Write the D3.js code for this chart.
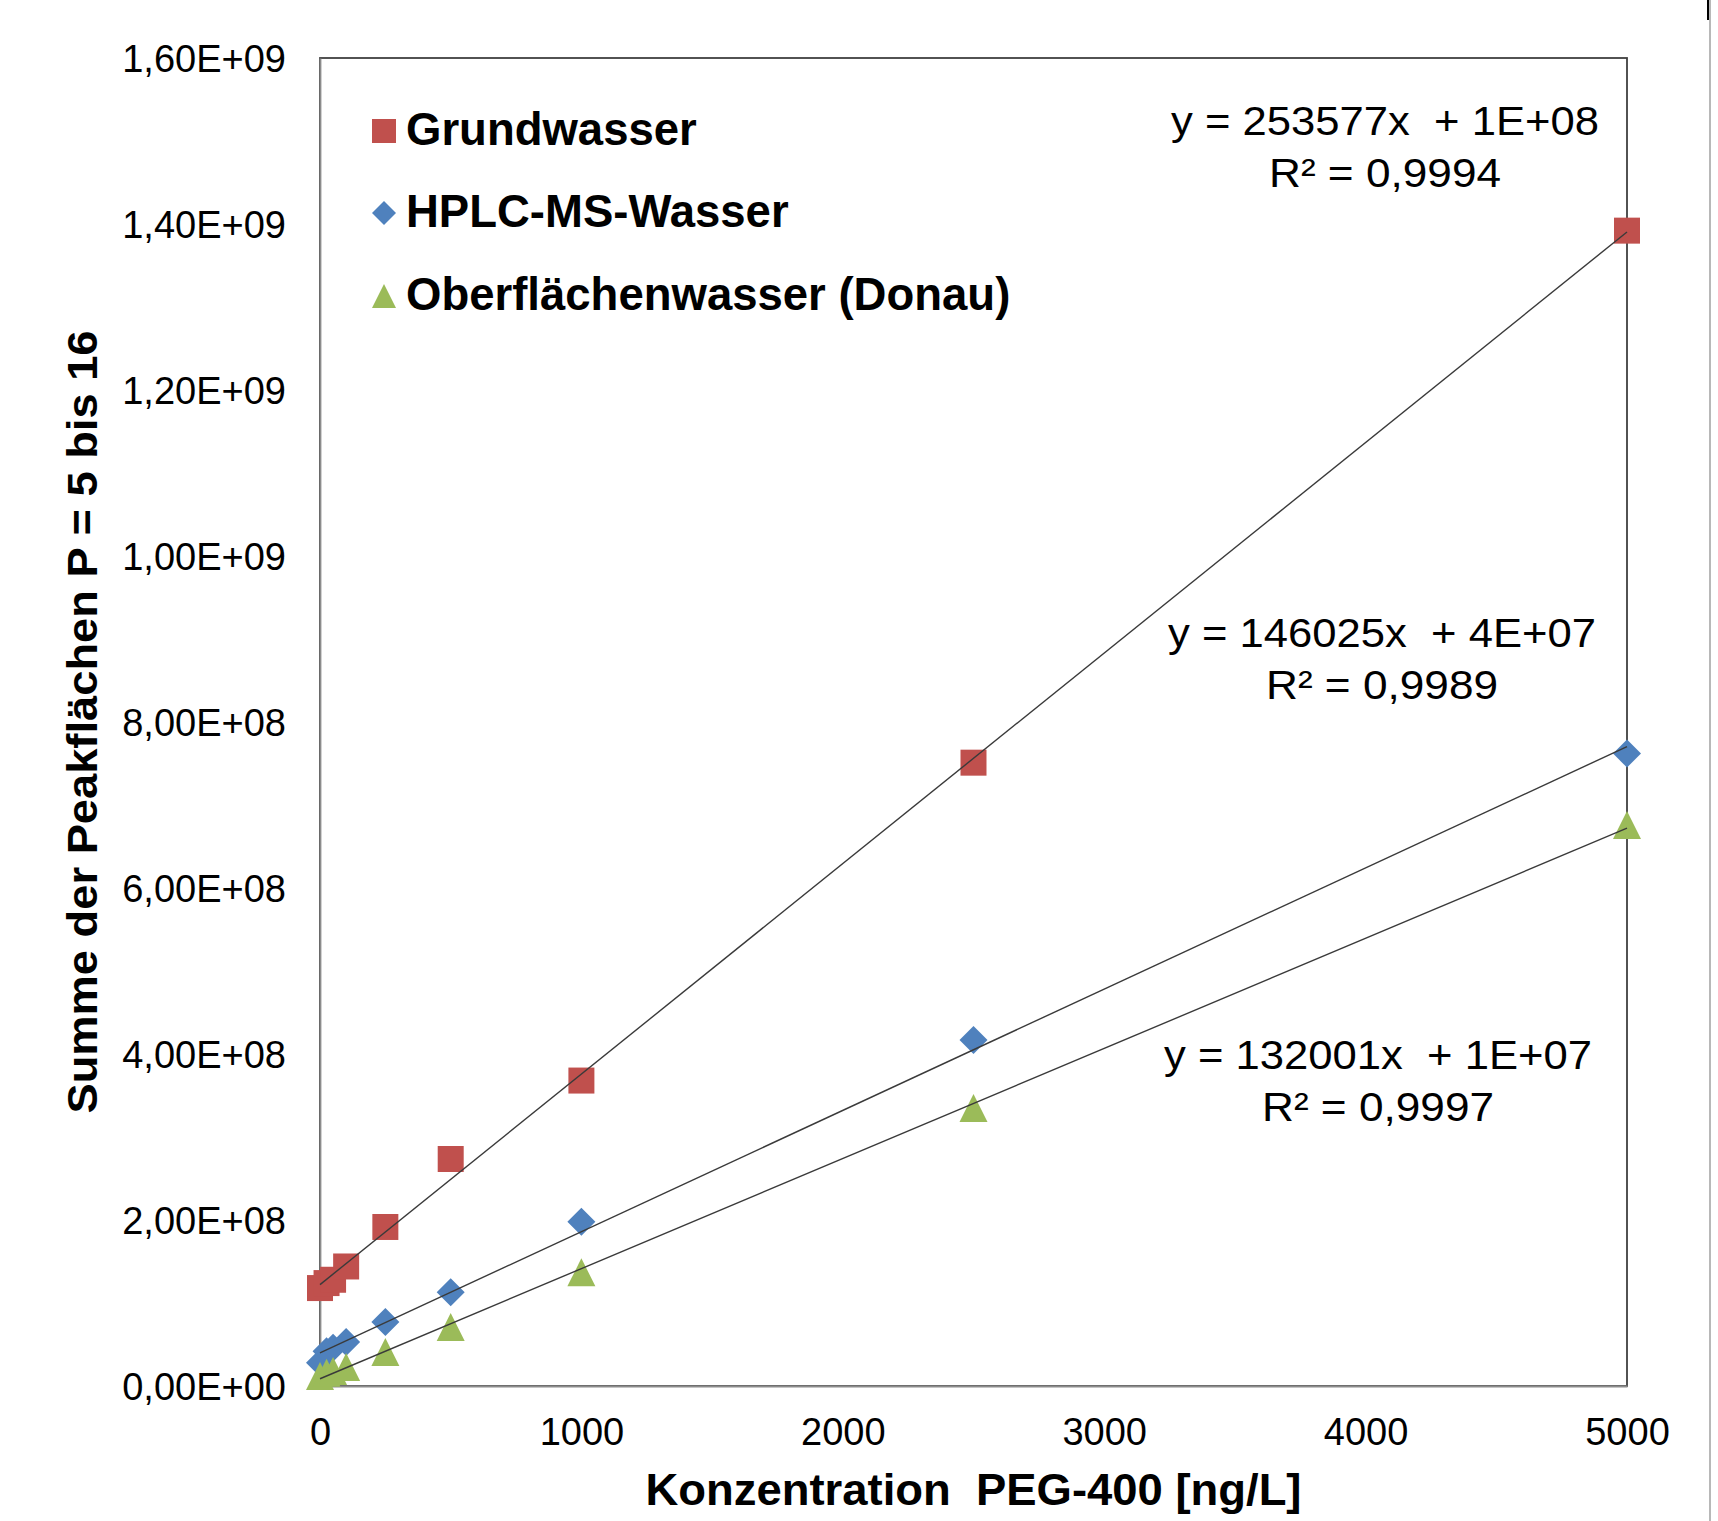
<!DOCTYPE html>
<html lang="de">
<head>
    <meta charset="UTF-8">
    <title>Kalibrierung PEG-400</title>
    <script src="https://cdnjs.cloudflare.com/ajax/libs/d3/7.8.5/d3.min.js"></script>
    <style>
        body { margin: 0; background: #fff; }
        svg { display: block; font-family: "Liberation Sans", Arial, sans-serif; }
        .tick text { fill: #000; }
    </style>
</head>
<body>
<div id="chart"></div>
<script>
    // Konzentrationen PEG-400 [ng/L]
    const concentrations = [0, 25, 50, 100, 250, 500, 1000, 2500, 5000];

    // Summe der Peakflaechen je Matrix
    const grundwasser = [1.18e8, 1.24e8, 1.28e8, 1.44e8, 1.916e8, 2.735e8, 3.68e8, 7.51e8, 1.392e9];
    const hplcWasser = [2.8e7, 4.2e7, 4.6e7, 5.3e7, 7.7e7, 1.13e8, 1.98e8, 4.17e8, 7.62e8];
    const donauWasser = [1.2e7, 1.6e7, 1.8e7, 2.3e7, 4.1e7, 7.1e7, 1.37e8, 3.35e8, 6.76e8];

    const seriesNames = ["Grundwasser", "HPLC-MS-Wasser", "Oberflächenwasser (Donau)"];
    const seriesColors = ["#C0504D", "#4F81BD", "#9BBB59"];

    // Beschriftung der Trendlinien
    const equations = ["y = 253577x  + 1E+08", "y = 146025x  + 4E+07", "y = 132001x  + 1E+07"];
    const rSquared = ["R² = 0,9994", "R² = 0,9989", "R² = 0,9997"];

    const xTicks = [0, 1000, 2000, 3000, 4000, 5000];
    const yTicks = [0, 2e8, 4e8, 6e8, 8e8, 1e9, 1.2e9, 1.4e9, 1.6e9];
    const yTickLabels = ["0,00E+00", "2,00E+08", "4,00E+08", "6,00E+08", "8,00E+08",
                         "1,00E+09", "1,20E+09", "1,40E+09", "1,60E+09"];

    const width = 1718, height = 1521;
    const plot = { left: 320, right: 1627, top: 58, bottom: 1386 };

    const svg = d3.select("#chart").append("svg")
        .attr("width", width)
        .attr("height", height);

    const x = d3.scaleLinear().domain([0, 5000]).range([plot.left, plot.right]);
    const y = d3.scaleLinear().domain([0, 1.6e9]).range([plot.bottom, plot.top]);

    // page edge on the right
    svg.append("line")
        .attr("x1", 1710).attr("x2", 1710).attr("y1", 0).attr("y2", height)
        .attr("stroke", "#a0a0a0").attr("stroke-width", 1.5);
    svg.append("line")
        .attr("x1", 1708).attr("x2", 1708).attr("y1", 0).attr("y2", 20)
        .attr("stroke", "#000").attr("stroke-width", 2);

    // plot frame
    svg.append("rect")
        .attr("x", plot.left).attr("y", plot.top)
        .attr("width", plot.right - plot.left)
        .attr("height", plot.bottom - plot.top)
        .attr("fill", "none")
        .attr("stroke", "#404040")
        .attr("stroke-width", 1.8);

    // axes
    const xAxis = svg.append("g")
        .attr("transform", `translate(0,${plot.bottom})`)
        .call(d3.axisBottom(x).tickValues(xTicks).tickSize(0).tickPadding(59).tickFormat(d3.format("d")));
    xAxis.select(".domain").attr("stroke", "#8c8c8c").attr("stroke-width", 1.8);
    xAxis.selectAll("text").attr("font-size", 38).attr("dy", 0);

    const yAxis = svg.append("g")
        .attr("transform", `translate(${plot.left},0)`)
        .call(d3.axisLeft(y).tickValues(yTicks).tickSize(0).tickPadding(34)
            .tickFormat((d, i) => yTickLabels[i]));
    yAxis.select(".domain").attr("stroke", "#8c8c8c").attr("stroke-width", 1.8);
    yAxis.selectAll("text").attr("font-size", 38).attr("dy", "0.36em");

    // axis titles
    svg.append("text")
        .attr("x", (plot.left + plot.right) / 2)
        .attr("y", 1505)
        .attr("text-anchor", "middle")
        .attr("font-size", 44)
        .attr("font-weight", "bold")
        .attr("textLength", 656)
        .attr("lengthAdjust", "spacingAndGlyphs")
        .style("white-space", "pre")
        .text("Konzentration  PEG-400 [ng/L]");

    svg.append("text")
        .attr("transform", `translate(97,${(plot.top + plot.bottom) / 2}) rotate(-90)`)
        .attr("text-anchor", "middle")
        .attr("font-size", 43)
        .attr("font-weight", "bold")
        .attr("textLength", 783)
        .attr("lengthAdjust", "spacingAndGlyphs")
        .text("Summe der Peakflächen P = 5 bis 16");

    // marker shapes
    function markerPath(i, s) {
        const h = s / 2;
        if (i === 0) return `M${-h},${-h}H${h}V${h}H${-h}Z`;
        if (i === 1) return `M0,${-h}L${h},0L0,${h}L${-h},0Z`;
        return `M0,${-h}L${h},${h}L${-h},${h}Z`;
    }
    const markerSizes = [26, 28, 28];

    const allSeries = [grundwasser, hplcWasser, donauWasser];

    allSeries.forEach((values, i) => {
        svg.append("g")
            .selectAll("path")
            .data(values)
            .join("path")
            .attr("transform", (d, j) => `translate(${x(concentrations[j])},${y(d)})`)
            .attr("d", markerPath(i, markerSizes[i]))
            .attr("fill", seriesColors[i]);
    });

    // linear trend lines (least squares)
    function linearFit(xs, ys) {
        const mx = d3.mean(xs), my = d3.mean(ys);
        let sxy = 0, sxx = 0;
        xs.forEach((v, k) => { sxy += (v - mx) * (ys[k] - my); sxx += (v - mx) * (v - mx); });
        const slope = sxy / sxx;
        return { slope, intercept: my - slope * mx };
    }

    allSeries.forEach(values => {
        const fit = linearFit(concentrations, values);
        const ends = [0, 5000];
        svg.append("line")
            .attr("x1", x(ends[0])).attr("y1", y(fit.intercept + fit.slope * ends[0]))
            .attr("x2", x(ends[1])).attr("y2", y(fit.intercept + fit.slope * ends[1]))
            .attr("stroke", "#3a3a3a")
            .attr("stroke-width", 1.4);
    });

    // trend line labels
    const labelPos = [
        { cx: 1385, y1: 135, y2: 187 },
        { cx: 1382, y1: 647, y2: 699 },
        { cx: 1378, y1: 1069, y2: 1121 }
    ];
    labelPos.forEach((p, i) => {
        svg.append("text")
            .attr("x", p.cx).attr("y", p.y1)
            .attr("text-anchor", "middle")
            .attr("font-size", 41)
            .attr("textLength", 428)
            .attr("lengthAdjust", "spacingAndGlyphs")
            .style("white-space", "pre")
            .text(equations[i]);
        svg.append("text")
            .attr("x", p.cx).attr("y", p.y2)
            .attr("text-anchor", "middle")
            .attr("font-size", 41)
            .attr("textLength", 232)
            .attr("lengthAdjust", "spacingAndGlyphs")
            .text(rSquared[i]);
    });

    // legend
    const legendY = [131, 213, 296];
    const legendSizes = [24, 24, 24];
    seriesNames.forEach((name, i) => {
        svg.append("path")
            .attr("transform", `translate(384,${legendY[i]})`)
            .attr("d", markerPath(i, legendSizes[i]))
            .attr("fill", seriesColors[i]);
        svg.append("text")
            .attr("x", 406)
            .attr("y", legendY[i] + 14)
            .attr("font-size", 45.5)
            .attr("font-weight", "bold")
            .text(name);
    });
</script>
</body>
</html>
